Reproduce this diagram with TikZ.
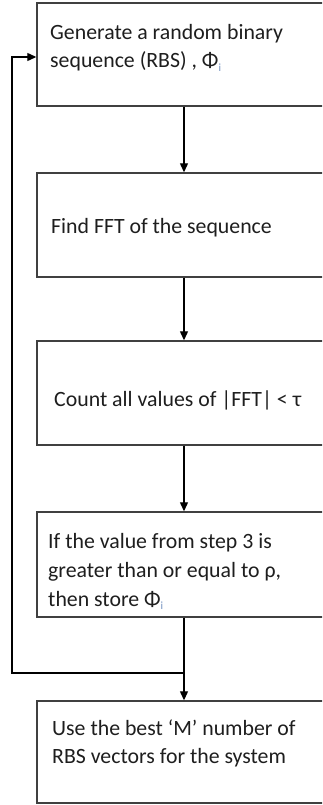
\documentclass[tikz,border=0pt]{standalone}
\usepackage{fontspec}
\setmainfont{Carlito}
\usetikzlibrary{arrows.meta}
\definecolor{boxline}{HTML}{404040}
\definecolor{ink}{HTML}{1E1E1E}
\definecolor{subblue}{HTML}{6F8FBF}
\newcommand{\phisub}{Φ\raisebox{-0.3ex}{\fontsize{11}{11}\selectfont\color{subblue}i}}
\begin{document}
\begin{tikzpicture}[x=1pt,y=-1pt,
  stepbox/.style={draw=boxline, line width=1.4pt, rectangle, minimum width=300pt, inner sep=0pt},
  lbl/.style={anchor=base west, inner sep=0pt, text=ink, font=\fontsize{21.8}{28.5}\selectfont},
  arr/.style={draw=black, line width=1.2pt, -{Triangle[length=9pt,width=8pt]}},
  ]
\useasboundingbox (0,0) rectangle (322,805);
\clip (0,0) rectangle (322,805);
\fill[white] (0,0) rectangle (322,805);
% boxes
\node[stepbox, minimum height=103pt] (b1) at (187,54.5) {};
\node[stepbox, minimum height=104pt] (b2) at (187,225) {};
\node[stepbox, minimum height=104pt] (b3) at (187,393) {};
\node[stepbox, minimum height=105pt] (b4) at (187,564.5) {};
\node[stepbox, minimum height=102pt] (b5) at (187,752) {};
% texts
\node[lbl] (t1a) at (50,40) {Generate a random binary};
\node[lbl] (t1b) at (50,68) {sequence (RBS) , \phisub};
\node[lbl] (t2) at (51,233) {Find FFT of the sequence};
\node[lbl] (t3) at (54,406) {Count all values of |FFT| < τ};
\node[lbl] (t4a) at (48,548) {If the value from step 3 is};
\node[lbl] (t4b) at (48,577) {greater than or equal to ρ,};
\node[lbl] (t4c) at (48,606) {then store \phisub};
\node[lbl] (t5a) at (52,735) {Use the best ‘M’ number of};
\node[lbl] (t5b) at (52,763) {RBS vectors for the system};
% connector coordinates
\coordinate (col) at (184,0);
\coordinate (join) at (184,673);
\coordinate (loopL) at (12,673);
\coordinate (loopT) at (12,57);
% connectors
\draw[arr] (b1.south -| col) -- (b2.north -| col);
\draw[arr] (b2.south -| col) -- (b3.north -| col);
\draw[arr] (b3.south -| col) -- (b4.north -| col);
\draw[arr] (b4.south -| col) -- (b5.north -| col);
\draw[arr] (join) -- (loopL) -- (loopT) -- (loopT -| b1.west);
\end{tikzpicture}
\end{document}
